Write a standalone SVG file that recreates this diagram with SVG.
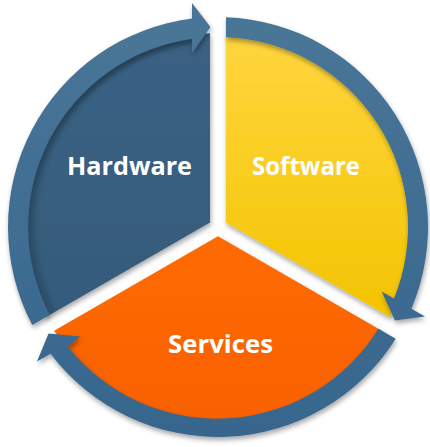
<svg xmlns="http://www.w3.org/2000/svg" width="430" height="447" viewBox="0 0 430 447">
  <defs>
    <filter id="shadow" x="-10%" y="-10%" width="120%" height="125%">
      <feDropShadow dx="1" dy="3" stdDeviation="2.5" flood-color="#000" flood-opacity="0.35"/>
    </filter>
    <filter id="blur" x="-10%" y="-10%" width="120%" height="120%">
      <feGaussianBlur stdDeviation="2"/>
    </filter>
    <linearGradient id="ringGrad" gradientUnits="userSpaceOnUse" x1="0" y1="0" x2="0" y2="447">
      <stop offset="0" stop-color="#4a7698"/>
      <stop offset="1" stop-color="#36658c"/>
    </linearGradient>
    <linearGradient id="yellowGrad" x1="0" y1="0" x2="0" y2="1">
      <stop offset="0" stop-color="#ffd63f"/>
      <stop offset="1" stop-color="#f3c400"/>
    </linearGradient>
    <linearGradient id="orangeGrad" x1="0" y1="0" x2="0" y2="1">
      <stop offset="0" stop-color="#ff6a00"/>
      <stop offset="1" stop-color="#f96100"/>
    </linearGradient>
    <linearGradient id="blueGrad" x1="0" y1="0" x2="0" y2="1">
      <stop offset="0" stop-color="#3a6284"/>
      <stop offset="1" stop-color="#355b7a"/>
    </linearGradient>
  </defs>
  <style>
    .label { font-family: "Open Sans", "Liberation Sans", Arial, sans-serif; font-weight: bold; font-size: 25px; fill: #ffffff; text-anchor: middle; }
    .ring { fill: url(#ringGrad); filter: url(#shadow); }
    .body { filter: url(#shadow); }
  </style>
  <rect width="430" height="447" fill="#ffffff"/>

  <g id="node-hardware">
    <path class="body" d="M 210 222.38 L 46.14 316.99 A 194 194 0 0 1 210 33.17 Z" fill="url(#blueGrad)"/>
    <text class="label" x="129.5" y="175" textLength="125" lengthAdjust="spacingAndGlyphs">Hardware</text>
  </g>

  <g id="node-software">
    <path class="body" d="M 226 222.38 L 226 33.17 A 194 194 0 0 1 389.86 316.99 Z" fill="url(#yellowGrad)"/>
    <text class="label" x="306" y="175" textLength="108" lengthAdjust="spacingAndGlyphs">Software</text>
  </g>

  <g id="node-services">
    <path class="body" d="M 218 236.24 L 381.86 330.84 A 194 194 0 0 1 54.14 330.84 Z" fill="url(#orangeGrad)"/>
    <text class="label" x="220.5" y="353" textLength="105" lengthAdjust="spacingAndGlyphs">Services</text>
  </g>

  <g id="connectors">
    <path d="M 53 312 A 187 187 0 0 1 192 42" fill="none" stroke="#1f3a50" stroke-width="4" opacity="0.45" filter="url(#blur)"/>
    <path id="arrow-hardware-software" class="ring" d="M 32.27 324.99 A 210 210 0 0 1 192 18.62 L 192 3 L 210.5 27 L 192 53 L 192 38.79 A 190 190 0 0 0 49.61 314.99 Z"/>
    <path id="arrow-software-services" class="ring" d="M 226 17.16 A 210 210 0 0 1 411.46 308.67 L 424.98 316.48 L 394.95 320.5 L 381.68 291.48 L 393.99 298.59 A 190 190 0 0 0 226 37.18 Z"/>
    <path id="arrow-services-hardware" class="ring" d="M 395.73 338.85 A 210 210 0 0 1 50.54 353.71 L 37.02 361.52 L 48.55 333.5 L 80.32 336.52 L 68.01 346.63 A 190 190 0 0 0 378.40 328.83 Z"/>
  </g>
</svg>
